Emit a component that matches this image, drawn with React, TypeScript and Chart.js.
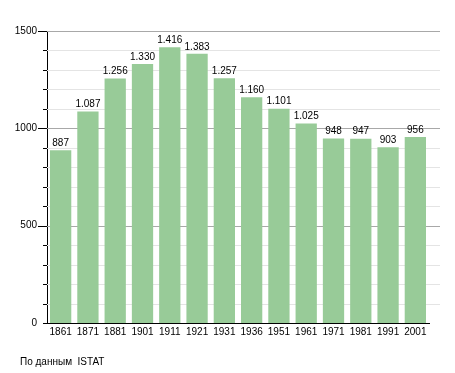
import React, { useEffect, useRef } from "react";
import { Chart, registerables } from "chart.js";

Chart.register(...registerables);

const years = ["1861", "1871", "1881", "1901", "1911", "1921", "1931", "1936", "1951", "1961", "1971", "1981", "1991", "2001"];
const population = [887, 1087, 1256, 1330, 1416, 1383, 1257, 1160, 1101, 1025, 948, 947, 903, 956];
const yTickLabels = [0, 500, 1000, 1500];
const footerText = "По данным  ISTAT";

const FONT = "'Liberation Sans', Arial, sans-serif";

function fmt(n: number): string {
  return String(n).replace(/\B(?=(\d{3})+(?!\d))/g, ".");
}

const decorPlugin = {
  id: "decor",
  beforeDatasetsDraw(chart: any) {
    const { ctx, chartArea } = chart;
    const y = chart.scales.y;
    ctx.save();
    for (let v = 100; v <= 1500; v += 100) {
      const py = Math.round(y.getPixelForValue(v)) + 0.5;
      const major = v % 500 === 0;
      ctx.strokeStyle = major ? "#a8a8a8" : "#e4e4e4";
      ctx.lineWidth = 1;
      ctx.beginPath();
      ctx.moveTo(chartArea.left, py);
      ctx.lineTo(440, py);
      ctx.stroke();
    }
    // tick marks
    for (let v = 0; v <= 1500; v += 100) {
      const py = Math.round(y.getPixelForValue(v)) + 0.5;
      const major = v % 500 === 0 && v > 0;
      ctx.strokeStyle = "#000";
      ctx.beginPath();
      ctx.moveTo(chartArea.left - (major ? 9 : 4), py);
      ctx.lineTo(chartArea.left, py);
      ctx.stroke();
    }
    ctx.restore();
  },
  afterDatasetsDraw(chart: any) {
    const { ctx } = chart;
    const meta = chart.getDatasetMeta(0);
    ctx.save();
    ctx.font = `10px ${FONT}`;
    ctx.fillStyle = "#000";
    ctx.textAlign = "center";
    ctx.textBaseline = "bottom";
    meta.data.forEach((bar: any, i: number) => {
      ctx.fillText(fmt(population[i]), bar.x, bar.y - 2);
    });
    ctx.textAlign = "left";
    ctx.textBaseline = "middle";
    ctx.fillText(footerText, 20, 362);
    ctx.restore();
  },
};

export default function App() {
  const ref = useRef<HTMLCanvasElement | null>(null);
  useEffect(() => {
    document.body.style.margin = "0";
    const chart = new Chart(ref.current as HTMLCanvasElement, {
      type: "bar",
      data: {
        labels: years,
        datasets: [
          {
            data: population,
            backgroundColor: "#98cb98",
            borderWidth: 0,
            barPercentage: 0.78,
            categoryPercentage: 1,
          },
        ],
      },
      options: {
        animation: false,
        responsive: false,
        events: [],
        layout: { padding: { top: 31, right: 26, bottom: 30, left: 0 } },
        plugins: { legend: { display: false }, tooltip: { enabled: false } },
        scales: {
          x: {
            grid: { display: false, drawTicks: false, tickLength: 0 },
            border: { display: true, color: "#000", width: 1 },
            ticks: { color: "#000", font: { family: FONT, size: 10 }, padding: 3, maxRotation: 0, autoSkip: false },
            afterFit(scale: any) {
              scale.height = 20;
            },
          },
          y: {
            min: 0,
            max: 1500,
            afterBuildTicks(scale: any) {
              scale.ticks = yTickLabels.map((v) => ({ value: v }));
            },
            grid: { display: false, drawTicks: false, tickLength: 0 },
            border: { display: true, color: "#000", width: 1 },
            ticks: {
              color: "#000",
              font: { family: FONT, size: 10 },
              padding: 10,
              callback: (v: any) => String(v),
            },
            afterFit(scale: any) {
              scale.width = 47;
            },
          },
        },
      },
      plugins: [decorPlugin],
    });
    return () => chart.destroy();
  }, []);
  return <canvas ref={ref} width={455} height={373} style={{ display: "block" }} />;
}
